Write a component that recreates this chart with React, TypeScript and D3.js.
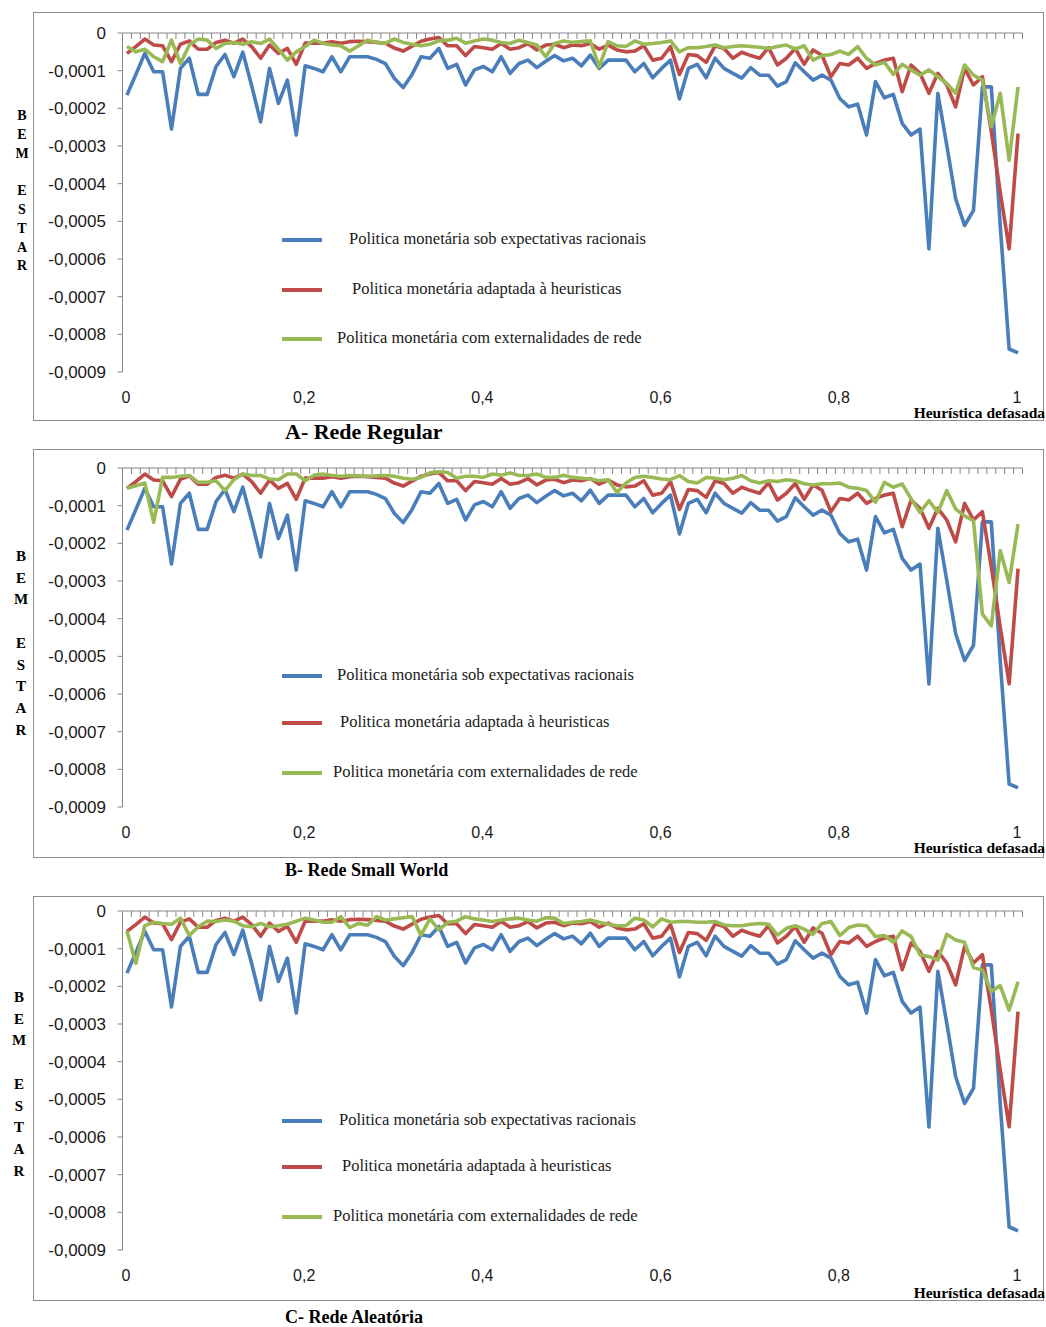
import * as d3 from 'd3'

// Heurística defasada: categories 0, 0.01, ..., 1
const categories = d3.range(0, 101)

const xTickIndex = [0, 20, 40, 60, 80, 100]
const xTickLabels = ['0', '0,2', '0,4', '0,6', '0,8', '1']
const yTicks = [0, -0.0001, -0.0002, -0.0003, -0.0004, -0.0005, -0.0006, -0.0007, -0.0008, -0.0009]
const yTickLabels = ['0', '-0,0001', '-0,0002', '-0,0003', '-0,0004', '-0,0005', '-0,0006', '-0,0007', '-0,0008', '-0,0009']

const seriesLabels = [
  'Politica monetária sob expectativas racionais',
  'Politica monetária adaptada à heuristicas',
  'Politica monetária com externalidades de rede',
]
const seriesColors = ['#4a7ebb', '#be4b48', '#98b954']

// welfare loss, in units of 0.0001 (plotted as negative values)
const racionais = [
  1.65, 1.1, 0.54, 1.03, 1.03, 2.55, 0.94, 0.67, 1.63, 1.63,
  0.89, 0.57, 1.16, 0.51, 1.4, 2.36, 0.94, 1.87, 1.25, 2.71,
  0.87, 0.94, 1.03, 0.63, 1.03, 0.63, 0.63, 0.63, 0.7, 0.81,
  1.2, 1.45, 1.1, 0.63, 0.67, 0.41, 0.94, 0.83, 1.38, 0.98,
  0.89, 1.03, 0.63, 1.07, 0.81, 0.72, 0.92, 0.75, 0.6, 0.74,
  0.67, 0.87, 0.59, 0.94, 0.72, 0.72, 0.72, 1.03, 0.81, 1.19,
  0.94, 0.72, 1.75, 0.94, 0.83, 1.19, 0.67, 0.94, 1.07, 1.2,
  0.92, 1.12, 1.12, 1.41, 1.29, 0.79, 1.03, 1.25, 1.12, 1.25,
  1.74, 1.96, 1.89, 2.71, 1.29, 1.72, 1.63, 2.4, 2.71, 2.55,
  5.73, 1.6, 2.98, 4.4, 5.11, 4.71, 1.43, 1.43, 5.11, 8.39,
  8.49,
]

const heuristicas = [
  0.54, 0.36, 0.16, 0.32, 0.34, 0.76, 0.3, 0.21, 0.43, 0.43,
  0.25, 0.19, 0.27, 0.16, 0.36, 0.67, 0.32, 0.54, 0.41, 0.83,
  0.27, 0.27, 0.27, 0.23, 0.27, 0.23, 0.22, 0.23, 0.25, 0.27,
  0.4, 0.48, 0.35, 0.22, 0.16, 0.12, 0.34, 0.34, 0.6, 0.36,
  0.39, 0.43, 0.28, 0.43, 0.39, 0.28, 0.45, 0.32, 0.3, 0.39,
  0.32, 0.34, 0.28, 0.43, 0.32, 0.45, 0.5, 0.48, 0.34, 0.72,
  0.67, 0.36, 1.1, 0.57, 0.6, 0.78, 0.34, 0.41, 0.67, 0.51,
  0.6, 0.67, 0.39, 0.85, 0.67, 0.41, 0.83, 0.45, 0.59, 1.16,
  0.81, 0.85, 0.67, 0.94, 0.81, 0.72, 0.67, 1.56, 0.85, 1.07,
  1.6, 1.07, 1.38, 1.96, 0.94, 1.38, 1.16, 2.62, 4.22, 5.73,
  2.67,
]

const redeRegular = [
  0.36, 0.5, 0.43, 0.63, 0.76, 0.19, 0.81, 0.32, 0.16, 0.19,
  0.41, 0.28, 0.25, 0.3, 0.23, 0.28, 0.16, 0.43, 0.72, 0.5,
  0.36, 0.19, 0.27, 0.32, 0.34, 0.48, 0.34, 0.19, 0.25, 0.27,
  0.16, 0.25, 0.3, 0.34, 0.3, 0.21, 0.19, 0.14, 0.27, 0.21,
  0.16, 0.19, 0.25, 0.28, 0.19, 0.25, 0.32, 0.63, 0.28, 0.21,
  0.25, 0.23, 0.21, 0.9, 0.23, 0.34, 0.36, 0.21, 0.3, 0.28,
  0.25, 0.21, 0.5, 0.39, 0.39, 0.36, 0.32, 0.39, 0.36, 0.34,
  0.36, 0.38, 0.41, 0.36, 0.32, 0.43, 0.34, 0.72, 0.6, 0.57,
  0.48, 0.57, 0.36, 0.67, 0.85, 0.78, 1.1, 0.83, 0.98, 1.12,
  0.98, 1.16, 1.34, 1.6, 0.85, 1.12, 1.25, 2.49, 1.6, 3.38,
  1.43,
]

const redeSmallWorld = [
  0.54, 0.47, 0.4, 1.44, 0.25, 0.25, 0.22, 0.2, 0.38, 0.38,
  0.34, 0.6, 0.31, 0.16, 0.2, 0.2, 0.29, 0.31, 0.16, 0.16,
  0.34, 0.19, 0.16, 0.2, 0.22, 0.2, 0.21, 0.22, 0.21, 0.2,
  0.22, 0.27, 0.3, 0.25, 0.13, 0.1, 0.12, 0.27, 0.22, 0.22,
  0.25, 0.16, 0.19, 0.13, 0.2, 0.2, 0.16, 0.25, 0.25, 0.19,
  0.25, 0.27, 0.29, 0.34, 0.31, 0.65, 0.4, 0.25, 0.22, 0.25,
  0.29, 0.31, 0.2, 0.36, 0.4, 0.25, 0.27, 0.31, 0.27, 0.2,
  0.34, 0.4, 0.34, 0.36, 0.31, 0.34, 0.42, 0.45, 0.42, 0.42,
  0.4, 0.51, 0.54, 0.6, 0.91, 0.38, 0.51, 0.42, 0.82, 1.18,
  0.87, 1.18, 0.6, 1.09, 1.27, 1.4, 3.88, 4.19, 2.19, 3.04,
  1.49,
]

const redeAleatoria = [
  0.53, 1.39, 0.39, 0.3, 0.33, 0.35, 0.19, 0.65, 0.42, 0.27,
  0.28, 0.24, 0.27, 0.39, 0.42, 0.33, 0.42, 0.39, 0.35, 0.27,
  0.19, 0.24, 0.3, 0.3, 0.15, 0.44, 0.33, 0.38, 0.15, 0.24,
  0.21, 0.18, 0.15, 0.64, 0.21, 0.5, 0.3, 0.27, 0.15, 0.21,
  0.24, 0.28, 0.24, 0.21, 0.19, 0.24, 0.27, 0.18, 0.19, 0.33,
  0.3, 0.28, 0.24, 0.3, 0.35, 0.39, 0.39, 0.19, 0.24, 0.42,
  0.21, 0.3, 0.28, 0.28, 0.3, 0.3, 0.28, 0.37, 0.39, 0.39,
  0.35, 0.33, 0.35, 0.64, 0.46, 0.39, 0.48, 0.62, 0.33, 0.28,
  0.65, 0.44, 0.37, 0.39, 0.68, 0.65, 0.83, 0.53, 0.68, 1.17,
  1.21, 1.3, 0.62, 0.77, 0.83, 1.5, 1.57, 2.14, 1.98, 2.63,
  1.88,
]

const UNIT = 0.0001

type PanelConfig = {
  key: string
  title: string
  titleSize: number
  titleY: number
  boxTop: number
  boxBottom: number
  plotTop: number
  network: number[]
  letterX: number
  letterTop: number
  letterStep: number
  letterSize: number
  legendY: number[]
  legendTextX: number[]
  heurY: number
}

const panels: PanelConfig[] = [
  {
    key: 'A',
    title: 'A- Rede Regular',
    titleSize: 22,
    titleY: 439,
    boxTop: 12,
    boxBottom: 420,
    plotTop: 33,
    network: redeRegular,
    letterX: 22,
    letterTop: 120,
    letterStep: 18.8,
    letterSize: 14,
    legendY: [240, 290, 339],
    legendTextX: [349, 352, 337],
    heurY: 418,
  },
  {
    key: 'B',
    title: 'B- Rede Small World',
    titleSize: 18,
    titleY: 876,
    boxTop: 449,
    boxBottom: 857,
    plotTop: 468,
    network: redeSmallWorld,
    letterX: 21,
    letterTop: 561,
    letterStep: 21.7,
    letterSize: 15,
    legendY: [676, 723, 773],
    legendTextX: [337, 340, 333],
    heurY: 853,
  },
  {
    key: 'C',
    title: 'C- Rede Aleatória',
    titleSize: 18,
    titleY: 1323,
    boxTop: 896,
    boxBottom: 1300,
    plotTop: 911,
    network: redeAleatoria,
    letterX: 19,
    letterTop: 1002,
    letterStep: 21.7,
    letterSize: 15,
    legendY: [1121, 1167, 1217],
    legendTextX: [339, 342, 333],
    heurY: 1298,
  },
]

const WIDTH = 1046
const HEIGHT = 1327
const PLOT_HEIGHT = 339
const axisColor = '#868686'
const sansFont = '"Liberation Sans", Arial, sans-serif'
const serifFont = '"Liberation Serif", "Times New Roman", serif'
const letters = ['B', 'E', 'M', 'E', 'S', 'T', 'A', 'R']
const letterSlots = [0, 1, 2, 4, 5, 6, 7, 8]

function Panel({ config }: { config: PanelConfig }) {
  const x = d3.scalePoint<number>().domain(categories).range([122.5, 1022.5]).padding(0.5)
  const step = x.step()
  const y = d3
    .scaleLinear()
    .domain([-0.0009, 0])
    .range([config.plotTop + PLOT_HEIGHT, config.plotTop])
  const line = d3
    .line<number>()
    .x((_, i) => x(categories[i]) ?? 0)
    .y((v) => y(-v * UNIT))
  const series = [racionais, heuristicas, config.network]
  const zeroY = y(0)
  const bottomY = y(-0.0009)
  const axisLeft = 122.5
  const axisRight = 1022.5

  return (
    <g>
      <rect
        x={33.5}
        y={config.boxTop + 0.5}
        width={1010}
        height={config.boxBottom - config.boxTop}
        fill="white"
        stroke="#8c8c8c"
        strokeWidth={1}
      />

      {/* y axis */}
      <line x1={axisLeft} x2={axisLeft} y1={zeroY} y2={bottomY} stroke={axisColor} />
      {yTicks.map((tick, i) => (
        <g key={tick} transform={`translate(0,${y(tick)})`}>
          <line x1={axisLeft - 5} x2={axisLeft} y1={0} y2={0} stroke={axisColor} />
          <text
            x={106}
            y={6}
            textAnchor="end"
            fontSize="17"
            fontFamily={sansFont}
            fill="#1a1a1a"
          >
            {yTickLabels[i]}
          </text>
        </g>
      ))}

      {/* x axis at zero, ticks between categories */}
      <line x1={axisLeft} x2={axisRight} y1={zeroY} y2={zeroY} stroke={axisColor} />
      {d3.range(0, categories.length + 1).map((k) => {
        const tx = axisLeft + k * step
        return <line key={k} x1={tx} x2={tx} y1={zeroY} y2={zeroY + 6} stroke={axisColor} />
      })}
      {xTickIndex.map((idx, i) => (
        <text
          key={idx}
          x={(x(idx) ?? 0) - 1}
          y={bottomY + 31}
          textAnchor="middle"
          fontSize="16"
          fontFamily={sansFont}
          fill="#1a1a1a"
        >
          {xTickLabels[i]}
        </text>
      ))}

      {series.map((values, i) => (
        <path
          key={i}
          d={line(values) ?? ''}
          fill="none"
          stroke={seriesColors[i]}
          strokeWidth={3.6}
          strokeLinejoin="round"
        />
      ))}

      {/* legend */}
      {seriesLabels.map((label, i) => (
        <g key={label}>
          <line
            x1={282}
            x2={322}
            y1={config.legendY[i]}
            y2={config.legendY[i]}
            stroke={seriesColors[i]}
            strokeWidth={4}
          />
          <text
            x={config.legendTextX[i]}
            y={config.legendY[i] + 4}
            fontSize="16.5"
            fontFamily={serifFont}
            fill="#1a1a1a"
          >
            {label}
          </text>
        </g>
      ))}

      {/* vertical axis title */}
      {letters.map((letter, i) => (
        <text
          key={i}
          x={config.letterX}
          y={config.letterTop + letterSlots[i] * config.letterStep}
          textAnchor="middle"
          fontSize={config.letterSize}
          fontWeight="bold"
          fontFamily={serifFont}
        >
          {letter}
        </text>
      ))}

      <text
        x={1045}
        y={config.heurY}
        textAnchor="end"
        fontSize="15.5"
        fontWeight="bold"
        fontFamily={serifFont}
      >
        Heurística defasada
      </text>

      <text
        x={285}
        y={config.titleY}
        fontSize={config.titleSize}
        fontWeight="bold"
        fontFamily={serifFont}
      >
        {config.title}
      </text>
    </g>
  )
}

export default function App() {
  return (
    <div style={{ position: 'absolute', left: 0, top: 0 }}>
      <svg width={WIDTH} height={HEIGHT} viewBox={`0 0 ${WIDTH} ${HEIGHT}`} style={{ display: 'block', background: 'white' }}>
        {panels.map((panel) => (
          <Panel key={panel.key} config={panel} />
        ))}
      </svg>
    </div>
  )
}
